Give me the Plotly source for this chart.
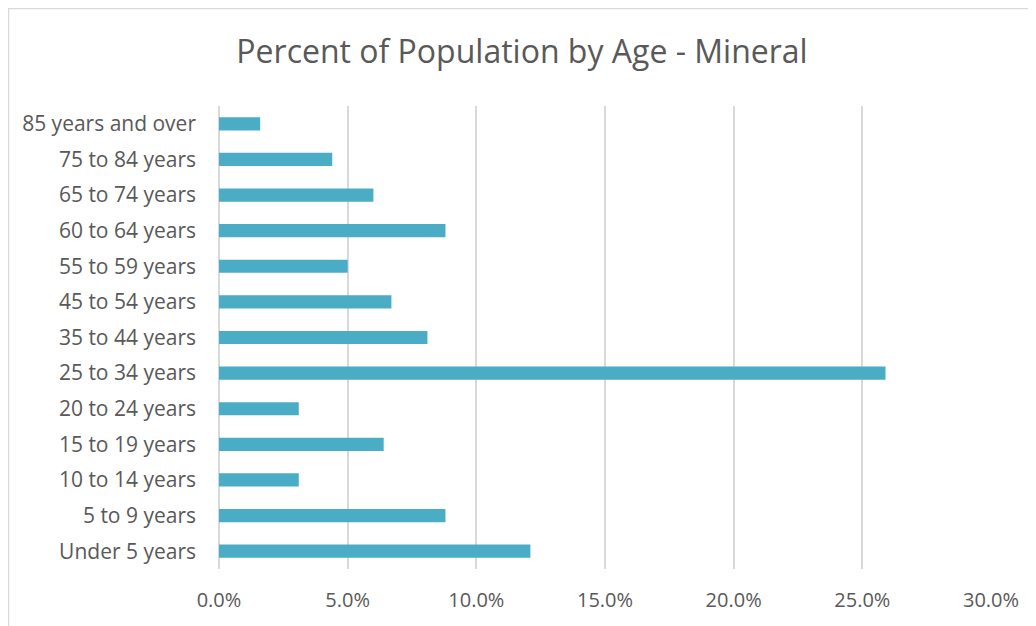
import plotly.graph_objects as go

categories = ["Under 5 years", "5 to 9 years", "10 to 14 years", "15 to 19 years",
              "20 to 24 years", "25 to 34 years", "35 to 44 years", "45 to 54 years",
              "55 to 59 years", "60 to 64 years", "65 to 74 years", "75 to 84 years",
              "85 years and over"]
percent = [12.1, 8.8, 3.1, 6.4, 3.1, 25.9, 8.1, 6.7, 5.0, 8.8, 6.0, 4.4, 1.6]
tick_vals = [0, 5, 10, 15, 20, 25, 30]
tick_text = ["0.0%", "5.0%", "10.0%", "15.0%", "20.0%", "25.0%", "30.0%"]

W, H = 1028, 618
L, T, PW, PH = 211, 98, 772, 463

fig = go.Figure(go.Bar(
    y=categories, x=percent, orientation="h",
    marker=dict(color="#4BACC6", line=dict(width=0)),
    hoverinfo="x+y",
))

fig.update_layout(
    width=W, height=H,
    margin=dict(l=L, r=W - L - PW, t=T, b=H - T - PH),
    paper_bgcolor="white", plot_bgcolor="white",
    bargap=0.63,
    showlegend=False,
    font=dict(family="Open Sans", color="#595959", size=20),
    title=dict(text="Percent of Population by Age - Mineral",
               x=0.5, xanchor="center", xref="container",
               y=1 - 44 / H, yanchor="middle", yref="container",
               font=dict(family="Open Sans", size=32, color="#595959")),
    xaxis=dict(range=[0, 30], tickvals=tick_vals, ticktext=tick_text,
               showgrid=True, gridcolor="#D9D9D9", gridwidth=1.5,
               zeroline=True, zerolinecolor="#D9D9D9", zerolinewidth=1.5,
               showline=False, ticks="", ticklabelstandoff=17,
               tickfont=dict(size=20, color="#595959"), fixedrange=True),
    yaxis=dict(categoryorder="array", categoryarray=categories,
               showgrid=False, zeroline=False, showline=False, ticks="",
               ticklabelstandoff=22,
               tickfont=dict(size=21, color="#595959"), fixedrange=True),
    shapes=[dict(type="rect", xref="paper", yref="paper",
                 x0=-(L - 0.5) / PW, x1=1 + (W - L - PW + 10) / PW,
                 y0=-(H - T - PH + 10) / PH, y1=1 + (T - 0.5) / PH,
                 line=dict(color="#D9D9D9", width=1.5), fillcolor="rgba(0,0,0,0)",
                 layer="below")],
)

fig.write_html("out.html")
